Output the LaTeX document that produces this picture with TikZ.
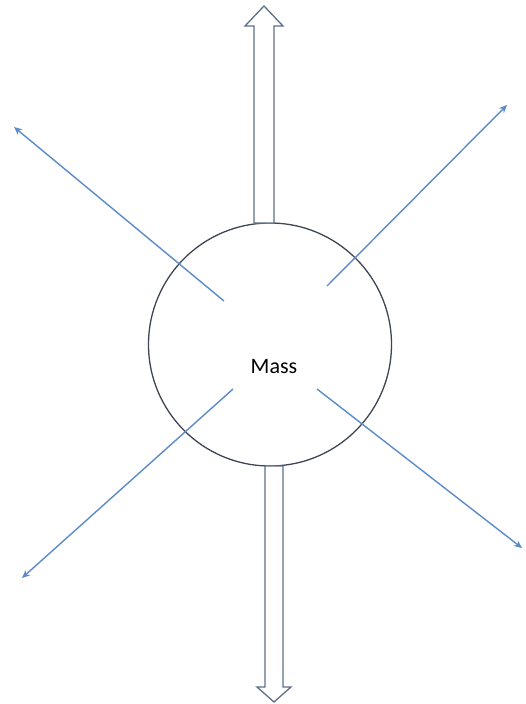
\documentclass[tikz,border=0pt]{standalone}
\usepackage{fontspec}
\setmainfont{Carlito}
\usetikzlibrary{arrows.meta}
\definecolor{rayblue}{HTML}{5B8BC9}
\definecolor{rimgray}{HTML}{3E4654}
\definecolor{hollow}{HTML}{5E6F88}
\begin{document}
\begin{tikzpicture}[x=1pt,y=-1pt,
  ray/.style={draw=rayblue,line width=1.4pt,-{Stealth[length=8pt,width=7pt]}},
  massbody/.style={circle,draw=rimgray,line width=1.3pt,minimum size=243pt,inner sep=0pt,fill=white},
  hollowarrow/.style={draw=hollow,line width=1.3pt,fill=white,line join=miter}]
\useasboundingbox (0,0) rectangle (525,704);
\node[massbody] (mass) at (270,344.5) {};
\node[font=\fontsize{22}{26}\selectfont] (lbl) at (274,367) {Mass};
% hollow arrows
\coordinate (uptip) at (264,6);
\coordinate (downtip) at (274,702);
\draw[hollowarrow] (254,223) -- (254,26) -- (245,26) -- (uptip) -- (283,26) -- (274,26) -- (274,223) -- cycle;
\draw[hollowarrow] (265,466) -- (265,687) -- (257,687) -- (downtip) -- (291,687) -- (283,687) -- (283,466) -- cycle;
% rays
\coordinate (s1) at (224,301);
\coordinate (e1) at (14,127);
\coordinate (s2) at (327,286);
\coordinate (e2) at (507,105);
\coordinate (s3) at (233,389);
\coordinate (e3) at (22,578);
\coordinate (s4) at (317,389);
\coordinate (e4) at (522,548);
\draw[ray] (s1) -- (e1);
\draw[ray] (s2) -- (e2);
\draw[ray] (s3) -- (e3);
\draw[ray] (s4) -- (e4);
\end{tikzpicture}
\end{document}
